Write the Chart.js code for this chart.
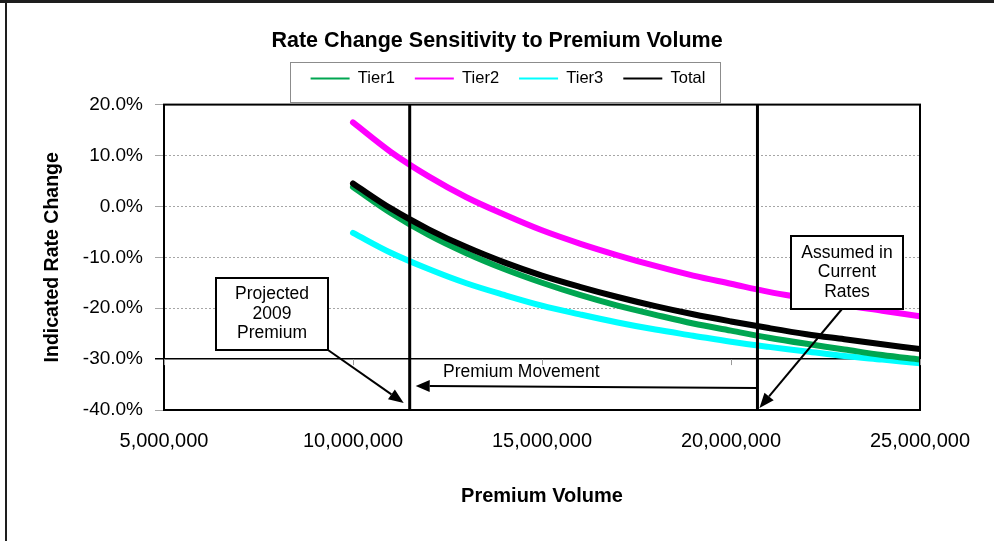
<!DOCTYPE html>
<html>
<head>
<meta charset="utf-8">
<title>Rate Change Sensitivity to Premium Volume</title>
<script src="https://cdn.jsdelivr.net/npm/chart.js@4/dist/chart.umd.min.js"></script>
<style>
  html, body { margin: 0; padding: 0; background: #ffffff; }
  #wrap { width: 994px; height: 541px; position: relative; }
  canvas { display: block; }
</style>
</head>
<body>
<div id="wrap"><canvas id="chart" width="994" height="541"></canvas></div>
<script>
// Premium volume scenarios (x) and indicated rate change in percent (y)
const premium = [10000000, 11000000, 12000000, 13000000, 14000000, 15000000, 16000000, 17000000,
                 18000000, 19000000, 20000000, 21000000, 22000000, 23000000, 24000000, 25000000];
const tier1 = [3.8, -1.3, -5.6, -9.2, -12.3, -15.0, -17.4, -19.5, -21.3, -23.0, -24.4, -25.8, -27.0, -28.1, -29.2, -30.1];
const tier2 = [16.5, 10.7, 5.9, 1.8, -1.6, -4.7, -7.3, -9.6, -11.7, -13.6, -15.2, -16.8, -18.1, -19.4, -20.5, -21.6];
const tier3 = [-5.2, -9.1, -12.3, -15.1, -17.4, -19.5, -21.2, -22.8, -24.2, -25.4, -26.6, -27.6, -28.5, -29.4, -30.1, -30.8];
const total = [4.5, -0.4, -4.5, -8.0, -11.0, -13.6, -15.8, -17.8, -19.6, -21.2, -22.6, -23.9, -25.1, -26.1, -27.1, -28.0];

// Reference premium levels: projected 2009 premium, premium assumed in current rates
const projectedPremium = 11500000;
const assumedPremium = 20700000;

// Axis ticks and their labels
const xTicks = [5000000, 10000000, 15000000, 20000000, 25000000];
const xTickLabels = ['5,000,000', '10,000,000', '15,000,000', '20,000,000', '25,000,000'];
const yTicks = [-40, -30, -20, -10, 0, 10, 20];
const yTickLabels = ['-40.0%', '-30.0%', '-20.0%', '-10.0%', '0.0%', '10.0%', '20.0%'];
const xAxisLine = -30; // horizontal axis crosses the value axis here

const FONT = '"Liberation Sans", Arial, Helvetica, sans-serif';
Chart.defaults.font.family = FONT;
Chart.defaults.color = '#000';

const toPoints = (ys) => premium.map((p, i) => ({ x: p, y: ys[i] }));
const seriesStyle = (color, order) => ({
  borderColor: color, backgroundColor: color, borderWidth: 6, pointRadius: 0,
  tension: 0.35, borderCapStyle: 'round', borderJoinStyle: 'round', fill: false, order
});
const markerLine = (p) => ({
  label: 'marker', data: [{ x: p, y: -40 }, { x: p, y: 20 }],
  borderColor: '#000', backgroundColor: '#000', borderWidth: 3, pointRadius: 0, tension: 0, order: -1
});

function arrow(ctx, x1, y1, x2, y2, len, half) {
  const a = Math.atan2(y2 - y1, x2 - x1);
  const bx = x2 - len * Math.cos(a), by = y2 - len * Math.sin(a);
  ctx.beginPath(); ctx.moveTo(x1, y1); ctx.lineTo(bx, by); ctx.stroke();
  ctx.beginPath();
  ctx.moveTo(x2, y2);
  ctx.lineTo(bx + half * Math.sin(a), by - half * Math.cos(a));
  ctx.lineTo(bx - half * Math.sin(a), by + half * Math.cos(a));
  ctx.closePath(); ctx.fill();
}

function noteBox(ctx, x, y, w, h, lines, lineGap) {
  ctx.fillStyle = '#fff'; ctx.fillRect(x, y, w, h);
  ctx.strokeStyle = '#000'; ctx.lineWidth = 2; ctx.strokeRect(x, y, w, h);
  ctx.fillStyle = '#000'; ctx.font = '17.5px ' + FONT;
  ctx.textAlign = 'center'; ctx.textBaseline = 'middle';
  const cy = y + h / 2 - (lines.length - 1) * lineGap / 2;
  lines.forEach((t, i) => ctx.fillText(t, x + w / 2, cy + i * lineGap));
}

const decorations = {
  id: 'decorations',
  afterLayout(chart) {
    const lg = chart.legend;
    if (lg) { lg.left += 11; lg.right += 11; }
  },
  afterDraw(chart) {
    const { ctx, chartArea: a } = chart;
    const xs = chart.scales.x, ys = chart.scales.y;
    ctx.save();

    // plot area frame
    ctx.strokeStyle = '#000'; ctx.lineWidth = 2;
    ctx.strokeRect(a.left, a.top, a.right - a.left, a.bottom - a.top);

    // tick marks along the crossing axis line
    const yAxis = ys.getPixelForValue(xAxisLine);
    ctx.strokeStyle = '#9a9a9a'; ctx.lineWidth = 1;
    xTicks.forEach(v => {
      const px = Math.round(xs.getPixelForValue(v)) + 0.5;
      ctx.beginPath(); ctx.moveTo(px, yAxis); ctx.lineTo(px, yAxis + 6); ctx.stroke();
    });

    // legend frame
    const hb = chart.legend && chart.legend.legendHitBoxes;
    if (hb && hb.length) {
      const first = hb[0], last = hb[hb.length - 1];
      const cy = first.top + first.height / 2;
      ctx.strokeStyle = '#8c8c8c'; ctx.lineWidth = 1;
      ctx.strokeRect(Math.round(first.left - 21) + 0.5, Math.round(cy - 16) + 0.5,
                     Math.round(last.left + last.width + 14 - (first.left - 21)), 40);
    }

    const xP = xs.getPixelForValue(projectedPremium);
    const xA = xs.getPixelForValue(assumedPremium);

    // premium movement arrow
    ctx.strokeStyle = '#000'; ctx.fillStyle = '#000'; ctx.lineWidth = 2;
    arrow(ctx, xA, 388, xP + 6, 386, 14, 6);
    ctx.font = '17.5px ' + FONT; ctx.textAlign = 'left'; ctx.textBaseline = 'middle';
    ctx.fillText('Premium Movement', 443, 372);

    // callouts
    ctx.strokeStyle = '#000'; ctx.fillStyle = '#000'; ctx.lineWidth = 2;
    arrow(ctx, 328, 350, xP - 6, 403, 15, 6);
    arrow(ctx, 842, 309, xA + 2, 408, 15, 6);
    noteBox(ctx, 216, 278, 112, 72, ['Projected', '2009', 'Premium'], 19.5);
    noteBox(ctx, 791, 236, 112, 73, ['Assumed in', 'Current', 'Rates'], 19.5);

    // outer frame
    ctx.fillStyle = '#1e1e1e';
    ctx.fillRect(0, 0, 994, 3);
    ctx.fillRect(5, 0, 2, 541);
    ctx.restore();
  }
};

new Chart(document.getElementById('chart'), {
  type: 'line',
  data: {
    datasets: [
      Object.assign({ label: 'Tier1', data: toPoints(tier1) }, seriesStyle('#00a651', 3)),
      Object.assign({ label: 'Tier2', data: toPoints(tier2) }, seriesStyle('#ff00ff', 2)),
      Object.assign({ label: 'Tier3', data: toPoints(tier3) }, seriesStyle('#00ffff', 4)),
      Object.assign({ label: 'Total', data: toPoints(total) }, seriesStyle('#000000', 1)),
      markerLine(projectedPremium),
      markerLine(assumedPremium)
    ]
  },
  options: {
    responsive: false,
    animation: false,
    devicePixelRatio: 1,
    layout: { padding: 0 },
    plugins: {
      title: {
        display: true,
        text: 'Rate Change Sensitivity to Premium Volume',
        font: { size: 21.5, weight: 'bold' },
        color: '#000',
        padding: { top: 28.4, bottom: -4 }
      },
      legend: {
        display: true,
        position: 'top',
        labels: {
          boxWidth: 39, boxHeight: 2, padding: 20,
          font: { size: 16.5 }, color: '#000',
          filter: (item) => item.text !== 'marker',
          sort: (a, b) => a.datasetIndex - b.datasetIndex,
          generateLabels: (chart) => Chart.defaults.plugins.legend.labels.generateLabels(chart)
            .map(l => Object.assign(l, { fillStyle: l.strokeStyle, lineWidth: 0 }))
        }
      },
      tooltip: { enabled: false }
    },
    scales: {
      x: {
        type: 'linear', position: 'bottom', min: 5000000, max: 25000000,
        afterBuildTicks: (s) => { s.ticks = xTicks.map(v => ({ value: v })); },
        afterFit: (s) => { s.height = 131; },
        grid: { display: true, drawOnChartArea: false, drawTicks: false },
        border: { display: true, color: '#000', width: 2 },
        ticks: { padding: 19.6, maxRotation: 0, autoSkip: false, font: { size: 20 }, color: '#000',
                 callback: (v, i) => xTickLabels[i] },
        title: { display: true, text: 'Premium Volume', font: { size: 20, weight: 'bold' }, color: '#000',
                 padding: { top: 0, bottom: 32.3 } }
      },
      y: {
        type: 'linear', position: 'left', min: -40, max: 20,
        afterBuildTicks: (s) => { s.ticks = yTicks.map(v => ({ value: v })); },
        afterFit: (s) => { s.width = 164; },
        grid: {
          color: (c) => (c.tick && c.tick.value === xAxisLine) ? '#000' : '#a6a6a6',
          lineWidth: (c) => (c.tick && c.tick.value === xAxisLine) ? 1.5 : 1,
          tickLength: 9
        },
        border: { display: true, color: '#000', width: 2,
                  dash: (c) => (c.tick && c.tick.value !== xAxisLine) ? [2, 2] : [] },
        ticks: { padding: 12, font: { size: 19 }, color: '#000',
                 callback: (v, i) => yTickLabels[i] },
        title: { display: true, text: 'Indicated Rate Change', font: { size: 19.5, weight: 'bold' }, color: '#000',
                 padding: { top: 41, bottom: 0 } }
      },
      topGap: {
        type: 'linear', position: 'top', display: true,
        afterFit: (s) => { s.height = 7.9; },
        grid: { display: false }, border: { display: false }, ticks: { display: false }
      },
      rightGap: {
        type: 'linear', position: 'right', display: true,
        afterFit: (s) => { s.width = 74; },
        grid: { display: false }, border: { display: false }, ticks: { display: false }
      }
    }
  },
  plugins: [decorations]
});
</script>
</body>
</html>
